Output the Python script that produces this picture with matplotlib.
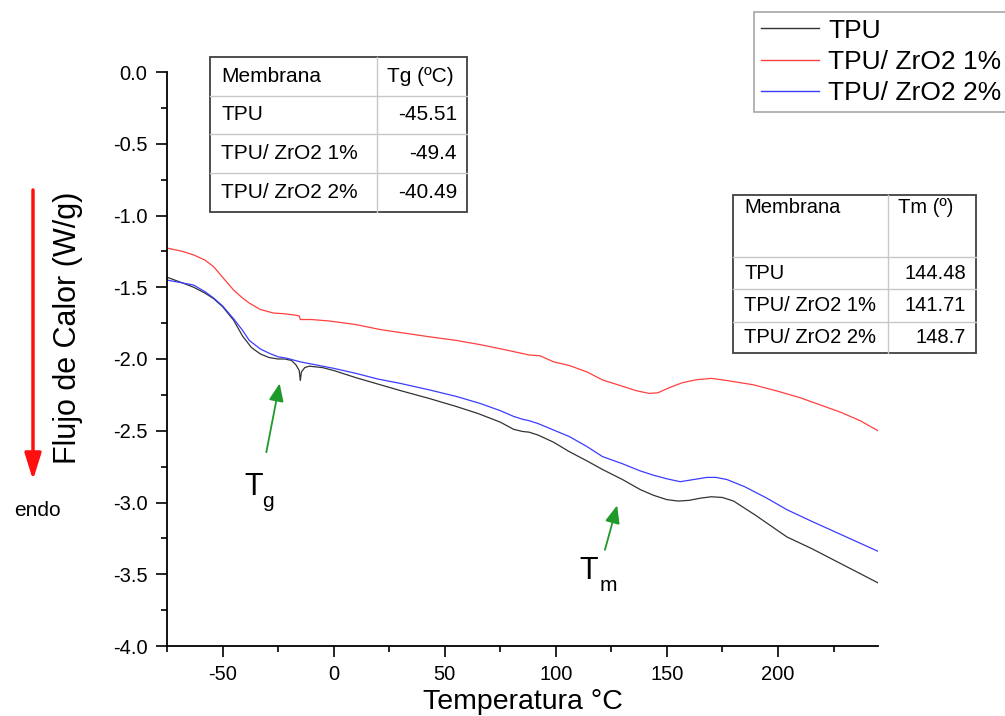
import numpy as np
import matplotlib
matplotlib.use("Agg")
import matplotlib.pyplot as plt
from matplotlib.lines import Line2D
from matplotlib.patches import Rectangle, FancyArrowPatch
from matplotlib.ticker import MultipleLocator, FormatStrFormatter

plt.rcParams['font.family'] = ['Liberation Sans', 'DejaVu Sans']
plt.rcParams['axes.unicode_minus'] = False

# --- data ---
tpu_x = [-75, -68, -63, -58, -54, -50, -45, -41, -37, -33, -29, -25, -22, -19, -17,
         -15.5, -15, -14.5, -13, -11, -5, 0, 10, 20, 30, 43, 55, 65, 75, 81, 85, 88,
         92, 99, 106, 114, 121, 130, 138, 144, 150, 155, 160, 165, 170, 175, 180, 190,
         204, 215, 225, 235, 245]
tpu_y = [-1.43, -1.47, -1.50, -1.54, -1.58, -1.635, -1.73, -1.84, -1.92, -1.965, -1.99,
         -2.00, -2.00, -2.01, -2.04, -2.08, -2.15, -2.09, -2.06, -2.05, -2.06, -2.08,
         -2.13, -2.175, -2.22, -2.275, -2.33, -2.38, -2.44, -2.49, -2.505, -2.51, -2.53,
         -2.58, -2.645, -2.71, -2.77, -2.84, -2.91, -2.95, -2.98, -2.99, -2.985, -2.97,
         -2.96, -2.965, -2.99, -3.09, -3.24, -3.32, -3.40, -3.48, -3.56]

zr1_x = [-75, -68, -63, -58, -54, -50, -45, -41, -38, -33, -27, -22, -17, -15.5, -15,
         -10, -2, 10, 21, 32, 43, 55, 66, 77, 88, 93, 99, 106, 114, 121, 130, 136, 142,
         146, 151, 157, 163, 170, 177, 189, 200, 210, 219, 228, 237, 245]
zr1_y = [-1.227, -1.25, -1.275, -1.31, -1.357, -1.43, -1.52, -1.575, -1.61, -1.655,
         -1.68, -1.685, -1.695, -1.70, -1.725, -1.725, -1.735, -1.76, -1.795, -1.82,
         -1.845, -1.87, -1.90, -1.935, -1.972, -1.978, -2.02, -2.045, -2.09, -2.146,
         -2.19, -2.22, -2.24, -2.235, -2.20, -2.165, -2.145, -2.135, -2.15, -2.18,
         -2.225, -2.27, -2.32, -2.37, -2.43, -2.50]

zr2_x = [-75, -68, -63, -58, -54, -50, -45, -41, -38, -33, -29, -25, -21, -15, -10, 0,
         10, 20, 30, 43, 55, 66, 75, 81, 85, 88, 92, 99, 106, 114, 121, 130, 138, 144,
         150, 156, 162, 168, 172, 177, 185, 195, 204, 215, 225, 235, 245]
zr2_y = [-1.45, -1.47, -1.485, -1.53, -1.575, -1.63, -1.72, -1.80, -1.87, -1.93, -1.96,
         -1.985, -1.995, -2.02, -2.035, -2.065, -2.10, -2.14, -2.17, -2.215, -2.26,
         -2.31, -2.36, -2.40, -2.42, -2.43, -2.45, -2.495, -2.54, -2.61, -2.68, -2.73,
         -2.78, -2.81, -2.835, -2.855, -2.84, -2.825, -2.825, -2.84, -2.89, -2.97,
         -3.05, -3.13, -3.20, -3.27, -3.34]

series_labels = ['TPU', 'TPU/ ZrO2 1%', 'TPU/ ZrO2 2%']
series_colors = ['#333333', '#ff4040', '#3c3cff']

membranas = ['TPU', 'TPU/ ZrO2 1%', 'TPU/ ZrO2 2%']
tg_vals = ['-45.51', '-49.4', '-40.49']
tm_vals = ['144.48', '141.71', '148.7']

W, H = 1005, 716
fig = plt.figure(figsize=(W / 100, H / 100), dpi=100)
ax = fig.add_axes([167 / W, 1 - 646 / H, (878 - 167) / W, (646 - 72) / H])

for xs, ys, lab, col in zip([tpu_x, zr1_x, zr2_x], [tpu_y, zr1_y, zr2_y],
                            series_labels, series_colors):
    ax.plot(xs, ys, color=col, lw=0.9, label=lab)

ax.set_xlim(-75, 245)
ax.set_ylim(-4.0, 0.0)
ax.xaxis.set_major_locator(MultipleLocator(50))
ax.xaxis.set_minor_locator(MultipleLocator(25))
ax.yaxis.set_major_locator(MultipleLocator(0.5))
ax.yaxis.set_minor_locator(MultipleLocator(0.25))
ax.yaxis.set_major_formatter(FormatStrFormatter('%.1f'))
for s in ['top', 'right']:
    ax.spines[s].set_visible(False)
for s in ['left', 'bottom']:
    ax.spines[s].set_linewidth(1.3)
ax.tick_params(which='major', length=8, width=1.2, labelsize=14.5, pad=6)
ax.tick_params(which='minor', length=4.5, width=1.2)

ax.set_xlabel('Temperatura °C', fontsize=20.5, labelpad=3)
ax.set_ylabel('Flujo de Calor (W/g)', fontsize=22)
ax.yaxis.set_label_coords(-0.118, 0.555)

# legend box runs off the right edge of the figure, as in the reference
leg = ax.legend(loc='upper left', bbox_to_anchor=(754 / W, 1 - 12 / H),
                bbox_transform=fig.transFigure, fontsize=19, fancybox=False,
                edgecolor='#909090', handlelength=2.2, handletextpad=0.35,
                borderpad=0.25, labelspacing=0.28, borderaxespad=0)
leg.get_frame().set_linewidth(1.2)
for h in leg.legend_handles:
    h.set_linewidth(1.0)


def draw_table(left, right, col_x, row_y, col_names, vals, fs, header_top=False):
    inner, outer = '#c8c8c8', '#404040'
    for y in row_y[1:-1]:
        fig.add_artist(Line2D([left / W, right / W], [1 - y / H] * 2, color=inner, lw=1))
    fig.add_artist(Line2D([col_x / W] * 2, [1 - row_y[0] / H, 1 - row_y[-1] / H],
                          color=inner, lw=1))
    fig.add_artist(Rectangle((left / W, 1 - row_y[-1] / H), (right - left) / W,
                             (row_y[-1] - row_y[0]) / H, fill=False,
                             edgecolor=outer, lw=1.3, transform=fig.transFigure))
    if header_top:
        hy, hva = 1 - (row_y[0] + 3) / H, 'top'
    else:
        hy, hva = 1 - (row_y[0] + row_y[1]) / 2 / H, 'center'
    fig.text((left + 11) / W, hy, col_names[0], fontsize=fs, va=hva, ha='left')
    fig.text((col_x + 10) / W, hy, col_names[1], fontsize=fs, va=hva, ha='left')
    for i, (m, v) in enumerate(zip(membranas, vals)):
        yc = 1 - (row_y[i + 1] + row_y[i + 2]) / 2 / H
        fig.text((left + 11) / W, yc, m, fontsize=fs, va='center', ha='left')
        fig.text((right - 10) / W, yc, v, fontsize=fs, va='center', ha='right')


draw_table(210, 467, 377, [57, 96, 134, 173, 212], ['Membrana', 'Tg (ºC)'], tg_vals, 15)
draw_table(733, 976, 888, [195, 257, 289, 322, 353], ['Membrana', 'Tm (º)'], tm_vals, 14.5,
           header_top=True)

# Tg / Tm annotations
green = '#1f9a2a'
ax.annotate('', xy=(-24.3, -2.17), xytext=(-30.3, -2.65),
            arrowprops=dict(arrowstyle='-|>,head_length=0.6,head_width=0.25',
                            color=green, lw=1.3, mutation_scale=18,
                            shrinkA=0, shrinkB=0))
ax.annotate('', xy=(127.6, -3.02), xytext=(122.1, -3.33),
            arrowprops=dict(arrowstyle='-|>,head_length=0.6,head_width=0.25',
                            color=green, lw=1.3, mutation_scale=18,
                            shrinkA=0, shrinkB=0))
ax.text(-40.3, -2.948, 'T', fontsize=22, va='baseline', ha='left')
ax.text(-32.0, -3.03, 'g', fontsize=15, va='baseline', ha='left')
ax.text(110.8, -3.533, 'T', fontsize=22, va='baseline', ha='left')
ax.text(119.8, -3.62, 'm', fontsize=15, va='baseline', ha='left')

# endo arrow
fig.add_artist(FancyArrowPatch(
    (33 / W, 1 - 190 / H), (33 / W, 1 - 480 / H), transform=fig.transFigure,
    arrowstyle='-|>,head_length=0.8,head_width=0.25', mutation_scale=20,
    color='#ff1010', lw=2.5, shrinkA=0, shrinkB=0))
fig.text(37 / W, 1 - 510 / H, 'endo', fontsize=15, ha='center', va='center')

fig.savefig('out.png', dpi=100)
